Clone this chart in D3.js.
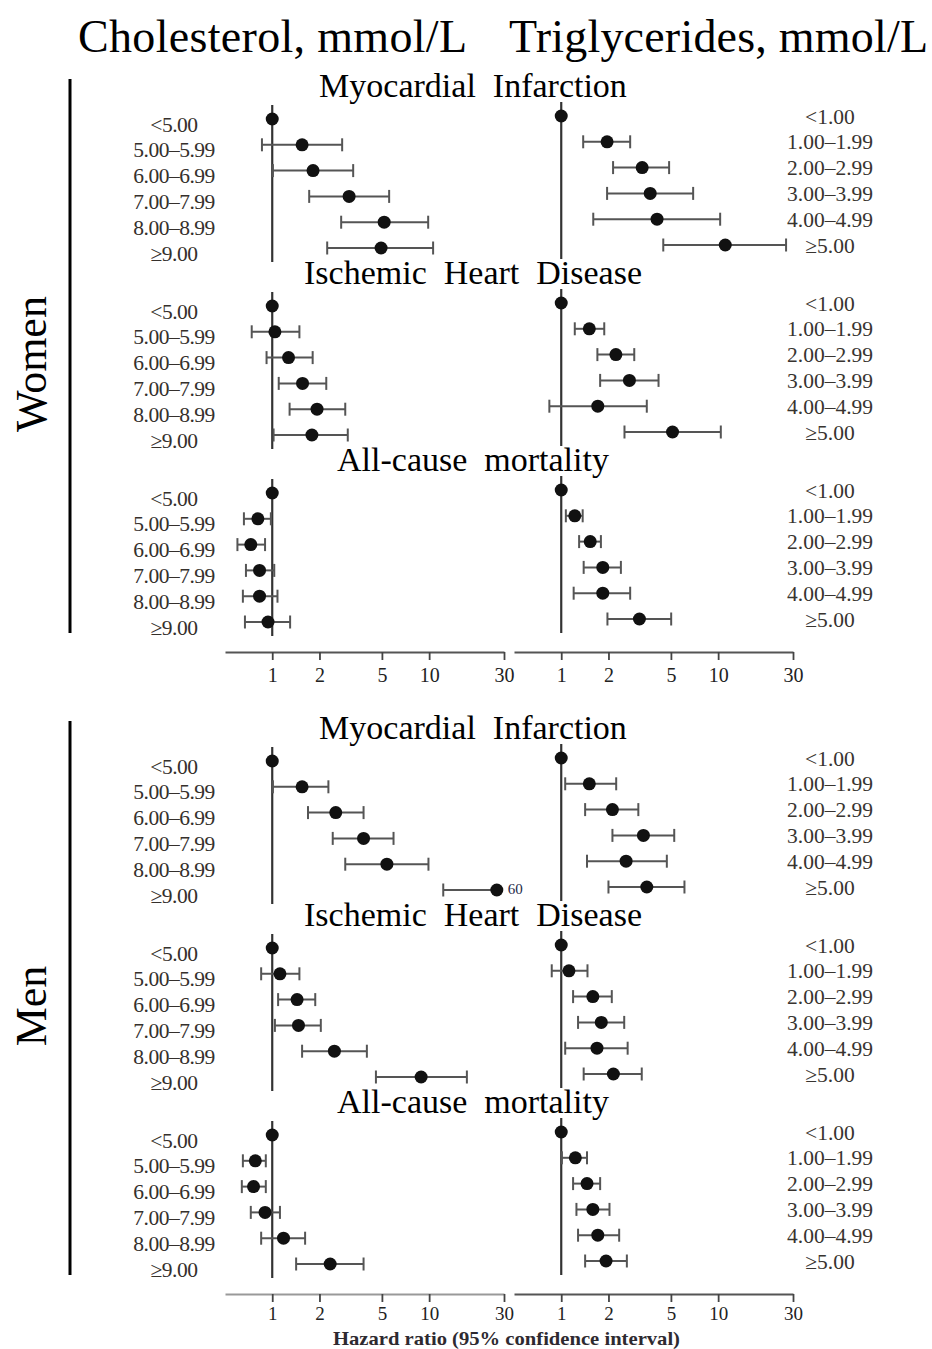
<!DOCTYPE html>
<html>
<head>
<meta charset="utf-8">
<script src="https://cdn.jsdelivr.net/npm/d3@7"></script>
<style>
  html, body { margin: 0; padding: 0; background: #fff; }
  svg { display: block; }
  text { font-family: "Liberation Serif", "Times New Roman", serif; white-space: pre; }
</style>
</head>
<body>
<svg id="chart" width="932" height="1349"></svg>
<script>
// ---------------- DATA ----------------
const sexes = ["Women", "Men"];
const outcomes = ["Myocardial  Infarction", "Ischemic  Heart  Disease", "All-cause  mortality"];
const cholCategories = ["<5.00", "5.00–5.99", "6.00–6.99", "7.00–7.99", "8.00–8.99", "≥9.00"];
const trigCategories = ["<1.00", "1.00–1.99", "2.00–2.99", "3.00–3.99", "4.00–4.99", "≥5.00"];
const tickValues = [1, 2, 5, 10, 30];
const headers = ["Cholesterol, mmol/L", "Triglycerides, mmol/L"];
const axisTitle = "Hazard ratio (95% confidence interval)";

// [hazard ratio, lower CI, upper CI]
const womenMiChol  = [[1, null, null], [1.55, 0.86, 2.79], [1.82, 1.01, 3.28], [3.09, 1.72, 5.56], [5.17, 2.75, 9.86], [4.94, 2.24, 10.6]];
const womenMiTrig  = [[1, null, null], [1.96, 1.38, 2.75], [3.28, 2.14, 4.87], [3.69, 1.96, 6.93], [4.08, 1.60, 10.3], [11.1, 4.47, 27.1]];
const womenIhdChol = [[1, null, null], [1.04, 0.74, 1.49], [1.27, 0.92, 1.81], [1.56, 1.10, 2.21], [1.93, 1.29, 2.92], [1.79, 1.02, 3.03]];
const womenIhdTrig = [[1, null, null], [1.51, 1.22, 1.88], [2.23, 1.70, 2.92], [2.72, 1.77, 4.17], [1.71, 0.84, 3.51], [5.12, 2.53, 10.4]];
const womenAcChol  = [[1, null, null], [0.81, 0.66, 0.98], [0.73, 0.60, 0.90], [0.83, 0.68, 1.03], [0.83, 0.65, 1.08], [0.94, 0.67, 1.30]];
const womenAcTrig  = [[1, null, null], [1.22, 1.07, 1.37], [1.53, 1.30, 1.79], [1.84, 1.39, 2.40], [1.84, 1.20, 2.75], [3.15, 1.97, 5.02]];
const menMiChol    = [[1, null, null], [1.55, 1.01, 2.28], [2.54, 1.69, 3.82], [3.82, 2.43, 5.93], [5.38, 2.92, 9.9], [27, 12.3, 60]];
const menMiTrig    = [[1, null, null], [1.51, 1.06, 2.24], [2.12, 1.42, 3.10], [3.34, 2.12, 5.25], [2.59, 1.46, 4.71], [3.51, 2.00, 6.10]];
const menIhdChol   = [[1, null, null], [1.12, 0.85, 1.49], [1.44, 1.09, 1.88], [1.47, 1.04, 2.04], [2.49, 1.55, 4.01], [8.89, 4.58, 17.4]];
const menIhdTrig   = [[1, null, null], [1.12, 0.87, 1.47], [1.59, 1.19, 2.10], [1.80, 1.28, 2.52], [1.69, 1.06, 2.65], [2.15, 1.39, 3.26]];
const menAcChol    = [[1, null, null], [0.78, 0.65, 0.91], [0.76, 0.64, 0.91], [0.90, 0.73, 1.12], [1.18, 0.85, 1.62], [2.34, 1.42, 3.82]];
const menAcTrig    = [[1, null, null], [1.23, 1.01, 1.46], [1.46, 1.19, 1.77], [1.59, 1.25, 2.03], [1.71, 1.28, 2.34], [1.93, 1.42, 2.62]];

const panels = [
  [[womenMiChol, womenMiTrig], [womenIhdChol, womenIhdTrig], [womenAcChol, womenAcTrig]],
  [[menMiChol, menMiTrig], [menIhdChol, menIhdTrig], [menAcChol, menAcTrig]]
];

// ---------------- LAYOUT ----------------
const svg = d3.select("#chart");
const serif = '"Liberation Serif", "Times New Roman", serif';
const domain = [0.5, 30];
const xScales = [
  d3.scaleLog().domain(domain).range([225, 504]),
  d3.scaleLog().domain(domain).range([514, 793])
];
const sexY = d3.scaleOrdinal().domain(sexes).range([119, 761]);
const outcomeY = d3.scaleLinear().domain([0, 1]).range([0, 187]);
const rowY = d3.scaleLinear().domain([0, 5]).range([0, 129]);
const panelShift = [0, -3];
const labelX = [174, 830];
const axisY = [652, 1294];

// headers
svg.append("text").attr("x", 78).attr("y", 52).attr("font-size", 46).attr("textLength", 389).text(headers[0]);
svg.append("text").attr("x", 509).attr("y", 52).attr("font-size", 46).attr("textLength", 419).text(headers[1]);

sexes.forEach((sex, si) => {
  const base = sexY(sex);
  // sex side bar and label
  const top = base - 40, bottom = base + outcomeY(2) + 140;
  svg.append("line").attr("x1", 70).attr("x2", 70).attr("y1", top).attr("y2", bottom)
    .attr("stroke", "#000").attr("stroke-width", 3);
  svg.append("text")
    .attr("transform", `translate(46, ${(top + bottom) / 2 + 8}) rotate(-90)`)
    .attr("text-anchor", "middle").attr("font-size", 44).text(sex);

  outcomes.forEach((outcome, oi) => {
    const y0 = base + outcomeY(oi);
    svg.append("text").attr("x", 473).attr("y", y0 - 22)
      .attr("text-anchor", "middle").attr("font-size", 34).text(outcome);

    [0, 1].forEach(pi => {
      const x = xScales[pi];
      const data = panels[si][oi][pi];
      const cats = pi === 0 ? cholCategories : trigCategories;
      const yOf = i => y0 + panelShift[pi] + rowY(i);
      const g = svg.append("g");

      // reference line at HR = 1
      g.append("line").attr("x1", x(1)).attr("x2", x(1))
        .attr("y1", yOf(0) - 14).attr("y2", yOf(5) + 14)
        .attr("stroke", "#333").attr("stroke-width", 2.2);

      // row labels
      g.selectAll("text.lab").data(cats).join("text")
        .attr("class", "lab")
        .attr("x", labelX[pi])
        .attr("y", (d, i) => yOf(i) + (pi === 0 ? 5 : 0))
        .attr("dy", "0.35em")
        .attr("text-anchor", "middle")
        .attr("font-size", 21.5)
        .attr("letter-spacing", pi === 0 ? -0.5 : 0)
        .attr("fill", pi === 0 ? "#35302c" : "#383430")
        .text(d => d);

      data.forEach((d, i) => {
        const [hr, lo, hi] = d;
        const y = yOf(i);
        if (lo !== null) {
          const over = hi > domain[1];
          const xr = over ? x(hr) : x(hi);
          g.append("line").attr("x1", x(lo)).attr("x2", xr).attr("y1", y).attr("y2", y)
            .attr("stroke", "#555").attr("stroke-width", 2);
          g.append("line").attr("x1", x(lo)).attr("x2", x(lo)).attr("y1", y - 6.5).attr("y2", y + 6.5)
            .attr("stroke", "#555").attr("stroke-width", 2);
          if (!over) {
            g.append("line").attr("x1", x(hi)).attr("x2", x(hi)).attr("y1", y - 6.5).attr("y2", y + 6.5)
              .attr("stroke", "#555").attr("stroke-width", 2);
          } else {
            g.append("text").attr("x", x(hr) + 11).attr("y", y - 1).attr("dy", "0.35em")
              .attr("font-family", "'Liberation Sans', Arial, sans-serif")
              .attr("font-size", 15).attr("fill", "#1e2a4a").text(d3.format("d")(hi));
          }
        }
        g.append("circle").attr("cx", x(hr)).attr("cy", y).attr("r", 6.5).attr("fill", "#111");
      });
    });
  });

  // axes
  [0, 1].forEach(pi => {
    const ax = d3.axisBottom(xScales[pi]).tickValues(tickValues)
      .tickFormat(d3.format("d")).tickSizeInner(8).tickSizeOuter(0).tickPadding(si === 0 ? 8 : 5);
    const ag = svg.append("g").attr("transform", `translate(0, ${axisY[si]})`).call(ax);
    ag.select(".domain").attr("stroke", si === 1 && pi === 0 ? "#999" : "#555").attr("stroke-width", 2.2);
    ag.selectAll(".tick line").attr("stroke", "#444").attr("stroke-width", 1.8);
    ag.selectAll(".tick text").attr("font-family", serif).attr("font-size", si === 0 ? 20 : 19).attr("fill", "#222");
  });
});

svg.append("text").attr("x", 333).attr("y", 1345)
  .attr("font-size", 19.5).attr("font-weight", "bold").attr("fill", "#2e2a30")
  .attr("textLength", 347).attr("lengthAdjust", "spacingAndGlyphs")
  .text(axisTitle);
</script>
</body>
</html>
